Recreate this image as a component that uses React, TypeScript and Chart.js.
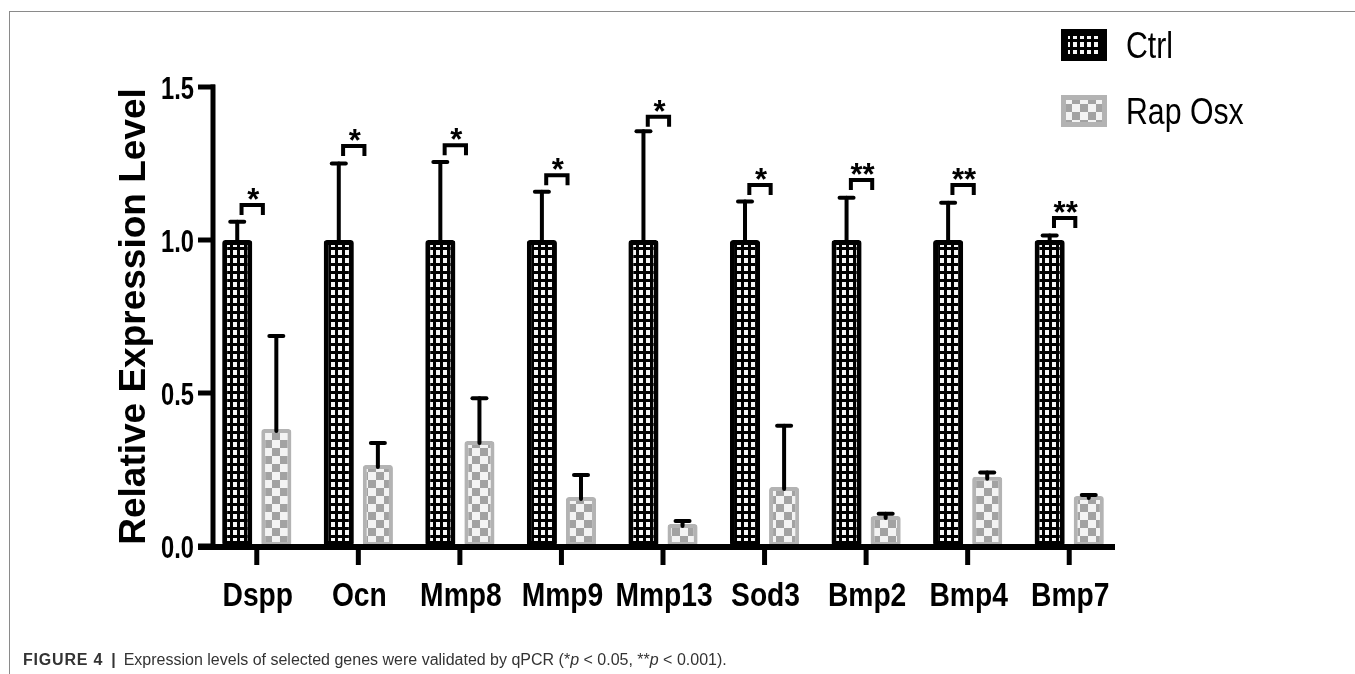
import React, { useEffect, useRef } from 'react';
import { Chart, registerables } from 'chart.js';

Chart.register(...registerables);

const categories = ['Dspp', 'Ocn', 'Mmp8', 'Mmp9', 'Mmp13', 'Sod3', 'Bmp2', 'Bmp4', 'Bmp7'];
const seriesNames = ['Ctrl', 'Rap Osx'];
const ctrlMeans = [1, 1, 1, 1, 1, 1, 1, 1, 1];
const ctrlErrors = [0.06, 0.25, 0.255, 0.158, 0.355, 0.126, 0.138, 0.122, 0.015];
const rapMeans = [0.382, 0.265, 0.343, 0.16, 0.072, 0.193, 0.098, 0.226, 0.163];
const rapErrors = [0.304, 0.072, 0.14, 0.072, 0.01, 0.2, 0.007, 0.014, 0.004];
const sigLabels = ['*', '*', '*', '*', '*', '*', '**', '**', '**'];
const sigLevels = [1.114, 1.307, 1.31, 1.212, 1.403, 1.18, 1.196, 1.18, 1.072];
const yTicks = [0, 0.5, 1.0, 1.5];
const yTickLabels = ['0.0', '0.5', '1.0', '1.5'];

const SANS = "'Liberation Sans', Arial, sans-serif";

function makeCtrlPattern(ctx: CanvasRenderingContext2D) {
  const c = document.createElement('canvas');
  c.width = 7;
  c.height = 8;
  const g = c.getContext('2d')!;
  g.fillStyle = '#000';
  g.fillRect(0, 0, 7, 8);
  g.fillStyle = '#f6f6f6';
  g.fillRect(2, 2, 4, 5);
  return ctx.createPattern(c, 'repeat')!;
}

function makeRapPattern(ctx: CanvasRenderingContext2D) {
  const c = document.createElement('canvas');
  c.width = 16;
  c.height = 16;
  const g = c.getContext('2d')!;
  g.fillStyle = '#f3f3f3';
  g.fillRect(0, 0, 16, 16);
  g.fillStyle = '#a2a2a2';
  g.fillRect(0, 0, 8, 8);
  g.fillRect(8, 8, 8, 8);
  return ctx.createPattern(c, 'repeat')!;
}

function narrowText(
  ctx: CanvasRenderingContext2D,
  text: string,
  x: number,
  y: number,
  sx: number,
  align: CanvasTextAlign
) {
  ctx.save();
  ctx.translate(x, y);
  ctx.scale(sx, 1);
  ctx.textAlign = align;
  ctx.fillText(text, 0, 0);
  ctx.restore();
}

export default function App() {
  const ref = useRef<HTMLCanvasElement | null>(null);

  useEffect(() => {
    const canvas = ref.current!;
    const ctx0 = canvas.getContext('2d')!;
    const ctrlPat = makeCtrlPattern(ctx0);
    const rapPat = makeRapPattern(ctx0);

    const decor = {
      id: 'decor',
      afterDatasetsDraw(chart: any) {
        const ctx: CanvasRenderingContext2D = chart.ctx;
        const xs = chart.scales.x;
        const ys = chart.scales.y;
        const area = chart.chartArea;
        const errs = [ctrlErrors, rapErrors];
        const means = [ctrlMeans, rapMeans];
        ctx.save();
        ctx.strokeStyle = '#000';
        ctx.fillStyle = '#000';
        ctx.lineCap = 'round';
        // error bars
        for (let d = 0; d < 2; d++) {
          const meta = chart.getDatasetMeta(d);
          meta.data.forEach((el: any, j: number) => {
            const yTop = ys.getPixelForValue(means[d][j] + errs[d][j]);
            const yBar = el.y;
            ctx.lineWidth = 4;
            ctx.beginPath();
            ctx.moveTo(el.x, yBar + 2);
            ctx.lineTo(el.x, yTop);
            ctx.stroke();
            ctx.beginPath();
            ctx.moveTo(el.x - 7, yTop);
            ctx.lineTo(el.x + 7, yTop);
            ctx.stroke();
          });
        }
        // axes
        const y0 = ys.getPixelForValue(0);
        const yMax = ys.getPixelForValue(1.5);
        ctx.lineCap = 'butt';
        ctx.lineWidth = 5;
        ctx.beginPath();
        ctx.moveTo(area.left + 7, yMax - 2.5);
        ctx.lineTo(area.left + 7, y0);
        ctx.stroke();
        ctx.textBaseline = 'alphabetic';
        ctx.font = `bold 32px ${SANS}`;
        yTicks.forEach((v, i) => {
          const py = ys.getPixelForValue(v);
          ctx.beginPath();
          ctx.moveTo(area.left - 8, py);
          ctx.lineTo(area.left + 9, py);
          ctx.stroke();
          narrowText(ctx, yTickLabels[i], area.left - 12, py + 11.5, 0.74, 'right');
        });
        ctx.lineWidth = 6;
        ctx.beginPath();
        ctx.moveTo(area.left - 8, y0 + 1);
        ctx.lineTo(area.right - 5, y0 + 1);
        ctx.stroke();
        ctx.lineWidth = 5;
        ctx.font = `bold 34px ${SANS}`;
        categories.forEach((label, j) => {
          const px = xs.getPixelForValue(j);
          ctx.beginPath();
          ctx.moveTo(px, y0 + 1);
          ctx.lineTo(px, y0 + 19);
          ctx.stroke();
          narrowText(ctx, label, px + 1, y0 + 60, 0.83, 'center');
        });
        // significance brackets
        const catW = (area.right - area.left) / categories.length;
        ctx.lineWidth = 4;
        ctx.lineJoin = 'miter';
        ctx.textAlign = 'center';
        ctx.font = `bold 31px ${SANS}`;
        categories.forEach((_, j) => {
          const cx = xs.getPixelForValue(j);
          const x0 = cx - 0.15 * catW;
          const x1 = cx + 0.06 * catW;
          const yb = ys.getPixelForValue(sigLevels[j]);
          ctx.beginPath();
          ctx.moveTo(x0, yb + 10);
          ctx.lineTo(x0, yb);
          ctx.lineTo(x1, yb);
          ctx.lineTo(x1, yb + 10);
          ctx.stroke();
          ctx.fillText(sigLabels[j], (x0 + x1) / 2 + 1, yb + 5);
        });
        // legend
        const pats = [ctrlPat, rapPat];
        const boxes = [
          { y: 29, border: '#000', inset: 7 },
          { y: 95, border: '#b3b3b3', inset: 5 },
        ];
        seriesNames.forEach((name, i) => {
          const b = boxes[i];
          ctx.fillStyle = b.border;
          ctx.fillRect(1061, b.y, 46, 32);
          ctx.fillStyle = pats[i];
          ctx.fillRect(1061 + b.inset, b.y + b.inset, 46 - 2 * b.inset, 32 - 2 * b.inset);
          ctx.fillStyle = '#000';
          ctx.font = `36px ${SANS}`;
          ctx.textBaseline = 'alphabetic';
          narrowText(ctx, name, 1126, b.y + 29, 0.84, 'left');
        });
        ctx.restore();
      },
    };

    const chart = new Chart(canvas, {
      type: 'bar',
      data: {
        labels: categories,
        datasets: [
          {
            label: seriesNames[0],
            data: ctrlMeans,
            backgroundColor: ctrlPat as any,
            borderColor: '#000',
            borderWidth: 5,
            borderRadius: 3,
            borderSkipped: false,
          },
          {
            label: seriesNames[1],
            data: rapMeans,
            backgroundColor: rapPat as any,
            borderColor: '#b3b3b3',
            borderWidth: 4,
            borderRadius: 3,
            borderSkipped: false,
          },
        ],
      },
      options: {
        responsive: false,
        animation: false,
        events: [],
        layout: { padding: { top: 87, right: 235, left: 0, bottom: 0 } },
        plugins: { legend: { display: false }, tooltip: { enabled: false } },
        datasets: { bar: { categoryPercentage: 0.77, barPercentage: 0.77 } },
        scales: {
          x: {
            grid: { display: false, drawTicks: false },
            border: { display: false },
            ticks: { display: false },
            afterFit: (s: any) => {
              s.height = 128;
            },
          },
          y: {
            min: 0,
            max: 1.5,
            afterBuildTicks: (s: any) => {
              s.ticks = yTicks.map((v) => ({ value: v }));
            },
            grid: { display: false, drawTicks: false },
            border: { display: false },
            ticks: { display: false },
            title: {
              display: true,
              text: 'Relative Expression Level',
              color: '#000',
              font: { family: SANS, size: 37, weight: 'bold' },
              padding: { top: 113, bottom: 0 },
            },
            afterFit: (s: any) => {
              s.width = 206;
            },
          },
        },
      },
      plugins: [decor],
    });
    return () => chart.destroy();
  }, []);

  return (
    <div
      style={{
        position: 'fixed',
        left: 0,
        top: 0,
        width: 1355,
        height: 674,
        background: '#fff',
        overflow: 'hidden',
      }}
    >
      <canvas ref={ref} width={1355} height={674} style={{ position: 'absolute', left: 0, top: 0 }} />
      <div style={{ position: 'absolute', left: 9, top: 11, width: 1346, height: 1, background: '#8a8a8a' }} />
      <div style={{ position: 'absolute', left: 9, top: 11, width: 1, height: 663, background: '#8a8a8a' }} />
      <div
        style={{
          position: 'absolute',
          left: 23,
          top: 651,
          fontFamily: SANS,
          fontSize: 16,
          lineHeight: '18px',
          color: '#333',
          whiteSpace: 'nowrap',
        }}
      >
        <span style={{ fontWeight: 'bold', letterSpacing: 0.8 }}>FIGURE 4</span>
        <span style={{ fontWeight: 'bold', margin: '0 8px' }}>|</span>
        <span>
          Expression levels of selected genes were validated by qPCR (*<i>p</i> &lt; 0.05, **<i>p</i> &lt; 0.001).
        </span>
      </div>
    </div>
  );
}
